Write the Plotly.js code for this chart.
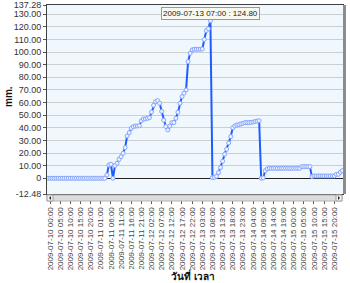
<!DOCTYPE html>
<html>
<head>
<meta charset="utf-8">
<script src="https://cdn.plot.ly/plotly-3.0.1.min.js"></script>
<style>
html,body{margin:0;padding:0;background:#ffffff;}
#chart{width:350px;height:283px;}
</style>
</head>
<body>
<div id="chart"></div>
<script>
// Hourly timestamps (observation times)
var times = [
"2009-07-09 23:00",
"2009-07-10 00:00","2009-07-10 01:00","2009-07-10 02:00","2009-07-10 03:00","2009-07-10 04:00","2009-07-10 05:00",
"2009-07-10 06:00","2009-07-10 07:00","2009-07-10 08:00","2009-07-10 09:00","2009-07-10 10:00","2009-07-10 11:00",
"2009-07-10 12:00","2009-07-10 13:00","2009-07-10 14:00","2009-07-10 15:00","2009-07-10 16:00","2009-07-10 17:00",
"2009-07-10 18:00","2009-07-10 19:00","2009-07-10 20:00","2009-07-10 21:00","2009-07-10 22:00","2009-07-10 23:00",
"2009-07-11 00:00","2009-07-11 01:00","2009-07-11 02:00","2009-07-11 03:00","2009-07-11 04:00","2009-07-11 05:00",
"2009-07-11 06:00","2009-07-11 07:00","2009-07-11 08:00","2009-07-11 09:00","2009-07-11 10:00","2009-07-11 11:00",
"2009-07-11 12:00","2009-07-11 13:00","2009-07-11 14:00","2009-07-11 15:00","2009-07-11 16:00","2009-07-11 17:00",
"2009-07-11 18:00","2009-07-11 19:00","2009-07-11 20:00","2009-07-11 21:00","2009-07-11 22:00","2009-07-11 23:00",
"2009-07-12 00:00","2009-07-12 01:00","2009-07-12 02:00","2009-07-12 03:00","2009-07-12 04:00","2009-07-12 05:00",
"2009-07-12 06:00","2009-07-12 07:00","2009-07-12 08:00","2009-07-12 09:00","2009-07-12 10:00","2009-07-12 11:00",
"2009-07-12 12:00","2009-07-12 13:00","2009-07-12 14:00","2009-07-12 15:00","2009-07-12 16:00","2009-07-12 17:00",
"2009-07-12 18:00","2009-07-12 19:00","2009-07-12 20:00","2009-07-12 21:00","2009-07-12 22:00","2009-07-12 23:00",
"2009-07-13 00:00","2009-07-13 01:00","2009-07-13 02:00","2009-07-13 03:00","2009-07-13 04:00","2009-07-13 05:00",
"2009-07-13 06:00","2009-07-13 07:00","2009-07-13 08:00","2009-07-13 09:00","2009-07-13 10:00","2009-07-13 11:00",
"2009-07-13 12:00","2009-07-13 13:00","2009-07-13 14:00","2009-07-13 15:00","2009-07-13 16:00","2009-07-13 17:00",
"2009-07-13 18:00","2009-07-13 19:00","2009-07-13 20:00","2009-07-13 21:00","2009-07-13 22:00","2009-07-13 23:00",
"2009-07-14 00:00","2009-07-14 01:00","2009-07-14 02:00","2009-07-14 03:00","2009-07-14 04:00","2009-07-14 05:00",
"2009-07-14 06:00","2009-07-14 07:00","2009-07-14 08:00","2009-07-14 09:00","2009-07-14 10:00","2009-07-14 11:00",
"2009-07-14 12:00","2009-07-14 13:00","2009-07-14 14:00","2009-07-14 15:00","2009-07-14 16:00","2009-07-14 17:00",
"2009-07-14 18:00","2009-07-14 19:00","2009-07-14 20:00","2009-07-14 21:00","2009-07-14 22:00","2009-07-14 23:00",
"2009-07-15 00:00","2009-07-15 01:00","2009-07-15 02:00","2009-07-15 03:00","2009-07-15 04:00","2009-07-15 05:00",
"2009-07-15 06:00","2009-07-15 07:00","2009-07-15 08:00","2009-07-15 09:00","2009-07-15 10:00","2009-07-15 11:00",
"2009-07-15 12:00","2009-07-15 13:00","2009-07-15 14:00","2009-07-15 15:00","2009-07-15 16:00","2009-07-15 17:00",
"2009-07-15 18:00","2009-07-15 19:00","2009-07-15 20:00","2009-07-15 21:00","2009-07-15 22:00","2009-07-15 23:00",
"2009-07-16 00:00"
];

// Measured values (mm.)
var values = [
0,
0,0,0,0,0,0, 0,0,0,0,0,0, 0,0,0,0,0,0, 0,0,0,0,0,0,
0,0,0,0,2.6,10.5, 11.1,0,10,11.9,15,17.1, 19.8,24.3,33.5,36.1,39.6,40.9, 41.4,41.4,41.6,45.6,47,47,
47.5,48,52.5,57.8,60.7,61.5, 59.4,53,46,41,38.3,41.4, 44.1,44.1,47.5,52.3,59.4,64.7, 67.4,70,92.4,99,101.7,102.2,
102.2,102.2,102.2,102.4,110,117, 118.5,124.8,0.5,0.8,1.5,4.5, 8.5,13.5,19,23,28,33, 40,41.4,42.2,42.5,43,43.5,
44.1,44.1,44.1,44.3,44.5,45, 45.3,45.6,0,0.3,6,7.5, 7.9,7.8,7.9,7.9,7.8,7.9, 7.9,7.9,8.0,7.9,7.9,7.9,
7.9,7.9,7.9,7.9,9.2,9.2, 9.2,9.2,9.2,1.3,1.8,1.8, 1.8,1.8,1.8,1.8,1.8,1.8, 1.8,1.8,1.8,3.1,3.1,4.8,
6
];

var yTickVals = [-12.48,0,10,20,30,40,50,60,70,80,90,100,110,120,130,137.28];
var yTickText = ["-12.48","0","10.00","20.00","30.00","40.00","50.00","60.00","70.00","80.00","90.00","100.00","110.00","120.00","130.00","137.28"];

var peakTime = "2009-07-13 07:00";
var peakValue = 124.8;
var tooltipText = "2009-07-13 07:00 : 124.80";
var xTitle = "วันที่ เวลา";
var yTitle = "mm.";

var trace = {
  x: times, y: values, type: 'scatter', mode: 'lines+markers',
  line: {color: '#1f5cff', width: 2},
  marker: {symbol: 'circle', size: 4, color: '#eef4ff', line: {color: '#86a4ff', width: 1}},
  hoverinfo: 'skip'
};

var sbY0 = -7/189, sbY1 = -1/189;
var layout = {
  width: 350, height: 283,
  margin: {l: 47, r: 7, t: 5, b: 89, pad: 0},
  paper_bgcolor: '#ffffff',
  plot_bgcolor: '#f0f8fe',
  showlegend: false,
  font: {family: 'Liberation Sans, Arial, sans-serif', color: '#333'},
  xaxis: {
    type: 'date',
    range: ['2009-07-09 22:31', '2009-07-16 00:18'],
    tickmode: 'linear', tick0: '2009-07-10 00:00', dtick: 5*3600*1000,
    tickformat: '%Y-%m-%d %H:%M', tickangle: -90,
    ticks: 'outside', ticklen: 9, tickcolor: '#555', tickwidth: 1,
    tickfont: {size: 8, color: '#444', family: 'Liberation Sans, Arial, sans-serif'},
    showgrid: false, zeroline: false,
    showline: true, mirror: true, linecolor: '#404040', linewidth: 1
  },
  yaxis: {
    range: [-12.48, 137.28],
    tickmode: 'array', tickvals: yTickVals, ticktext: yTickText,
    ticks: 'outside', ticklen: 3, tickcolor: '#555',
    tickfont: {size: 9, color: '#333', family: 'Liberation Sans, Arial, sans-serif'},
    showgrid: true, gridcolor: '#c9cfd2', gridwidth: 1,
    zeroline: true, zerolinecolor: '#222', zerolinewidth: 1,
    showline: true, mirror: true, linecolor: '#404040', linewidth: 1
  },
  shapes: [
    {type: 'rect', xref: 'paper', yref: 'paper', x0: 1, x1: 1 + 3/296, y0: 0, y1: 1, fillcolor: '#8c8c8c', line: {width: 0}, layer: 'above'},
    {type: 'rect', xref: 'paper', yref: 'paper', x0: 0, x1: 295/296, y0: sbY0, y1: sbY1, fillcolor: '#dcdcdc', line: {color: '#b4b4b4', width: 1}, layer: 'above'},
    {type: 'rect', xref: 'paper', yref: 'paper', x0: 0, x1: 6/296, y0: sbY0, y1: sbY1, fillcolor: '#f2f2f2', line: {color: '#a0a0a0', width: 1}, layer: 'above'},
    {type: 'rect', xref: 'paper', yref: 'paper', x0: 289/296, x1: 295/296, y0: sbY0, y1: sbY1, fillcolor: '#f2f2f2', line: {color: '#a0a0a0', width: 1}, layer: 'above'},
    {type: 'path', xref: 'paper', yref: 'paper', path: 'M 0.0135 ' + (-2/189) + ' L 0.0135 ' + (-6/189) + ' L 0.0068 ' + (-4/189) + ' Z', fillcolor: '#222', line: {width: 0}, layer: 'above'},
    {type: 'path', xref: 'paper', yref: 'paper', path: 'M ' + (291/296) + ' ' + (-2/189) + ' L ' + (291/296) + ' ' + (-6/189) + ' L ' + (293/296) + ' ' + (-4/189) + ' Z', fillcolor: '#222', line: {width: 0}, layer: 'above'}
  ],
  annotations: [
    {xref: 'paper', yref: 'paper', x: (8-47)/296, y: (194-97)/189, text: '<b>' + yTitle + '</b>', textangle: -90, showarrow: false,
     font: {size: 10, color: '#111', family: 'Liberation Sans, Arial, sans-serif'}, xanchor: 'center', yanchor: 'middle'},
    {xref: 'paper', yref: 'paper', x: (193-47)/296, y: (194-275)/189, text: '<b>' + xTitle + '</b>', showarrow: false,
     font: {size: 10, color: '#111', family: 'Liberation Sans, Noto Sans, DejaVu Sans, sans-serif'}, xanchor: 'center', yanchor: 'middle'},
    {xref: 'x', yref: 'y', x: peakTime, y: peakValue, text: tooltipText, showarrow: false, xanchor: 'center', yanchor: 'bottom', yshift: 1,
     font: {size: 8, color: '#222', family: 'Liberation Sans, Arial, sans-serif'}, bgcolor: '#f8f8ee', bordercolor: '#7f9cc8', borderwidth: 1, borderpad: 1}
  ]
};

Plotly.newPlot('chart', [trace], layout, {displayModeBar: false, staticPlot: true});
</script>
</body>
</html>
